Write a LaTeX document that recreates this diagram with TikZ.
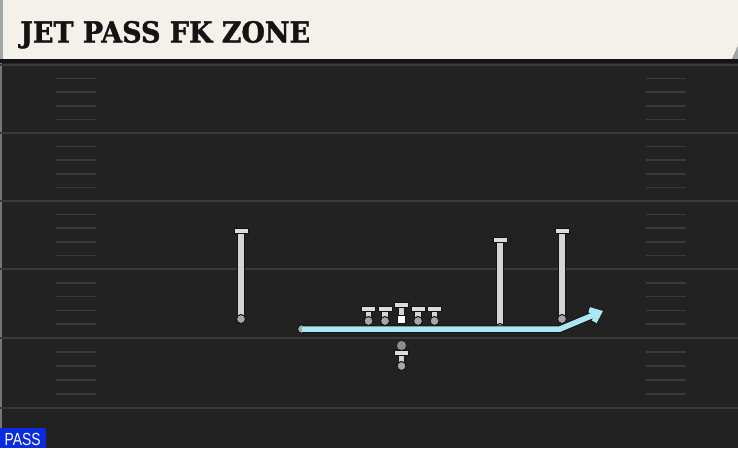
\documentclass[tikz,border=0pt]{standalone}
\usepackage{fontspec}
\usetikzlibrary{arrows.meta}
\newfontfamily\titlefont{DejaVu Serif}[BoldFeatures={FakeBold=1.5}]
\newfontfamily\tagfont{Liberation Sans}
\definecolor{fieldbg}{HTML}{222222}
\definecolor{yardline}{HTML}{3A3A3A}
\definecolor{headcream}{HTML}{F4F1EA}
\definecolor{headedge}{HTML}{A3A6A8}
\definecolor{edge}{HTML}{141414}
\definecolor{stemgray}{HTML}{D4D4D4}
\definecolor{bargray}{HTML}{DCDCDC}
\definecolor{footgray}{HTML}{A6A6A6}
\definecolor{jetblue}{HTML}{ACE6F4}
\definecolor{passblue}{HTML}{0B2BE0}

\begin{document}
\begin{tikzpicture}[x=1pt,y=-1pt,
		yard/.style={yardline,line width=2pt},
		hash/.style={yardline,line width=1.6pt},
		stem/.style={stemgray,line width=5.5pt,preaction={draw=edge,line width=7.5pt}},
		tbar/.style={draw=edge,fill=bargray,line width=1pt,minimum width=14pt,minimum height=5pt,inner sep=0pt},
		foot/.style={circle,draw=edge,fill=footgray,line width=1pt,minimum size=9pt,inner sep=0pt},
		route/.style={jetblue,line width=5.5pt,preaction={draw=edge,line width=7.5pt}}]
			\useasboundingbox (0,0) rectangle (738,448);
			\fill[fieldbg] (0,0) rectangle (738,448);
			\draw[yardline!70,line width=1.2pt] (1,60) -- (1,448);
			% yard lines and hashes
			\foreach \a/\b in {65/133,133/201,201/269,269/338,338/408} {
				\draw[yard] (0,\a) -- (738,\a);
				\foreach \k in {1,...,4} {
					\draw[hash] (56,{\a+(\b-\a)*\k/5}) -- (96,{\a+(\b-\a)*\k/5});
					\draw[hash] (646,{\a+(\b-\a)*\k/5}) -- (686,{\a+(\b-\a)*\k/5});
				}
			}
			\draw[yard] (0,408) -- (738,408);
			% header
			\fill[headcream] (0,0) -- (738,0) -- (738,46) -- (732,59) -- (0,59) -- cycle;
			\fill[headedge] (0,0) rectangle (3,59);
			\fill[headedge] (738,46) -- (738,59) -- (732,59) -- cycle;
			\fill[edge] (0,59) rectangle (738,63);
			\node[anchor=base west,inner sep=0pt,text=edge] (title) at (20,42.5)
				{\resizebox{290pt}{\height}{\fontsize{29}{29}\selectfont\titlefont\bfseries JET PASS FK ZONE}};
			% players
			\coordinate (lwr) at (241,231);
			\coordinate (lwrfoot) at (241,319);
			\coordinate (slot) at (500,240);
			\coordinate (slotfoot) at (500,328);
			\coordinate (rwr) at (562,231);
			\coordinate (rwrfoot) at (562,319);
			\coordinate (lt) at (368.5,309);
			\coordinate (ltfoot) at (368.5,321);
			\coordinate (lg) at (385,309);
			\coordinate (lgfoot) at (385,321);
			\coordinate (ctr) at (401.5,305);
			\coordinate (ctrfoot) at (401.5,319);
			\coordinate (rg) at (418,309);
			\coordinate (rgfoot) at (418,321);
			\coordinate (rt) at (434.5,309);
			\coordinate (rtfoot) at (434.5,321);
			\coordinate (qb) at (401.5,353);
			\coordinate (qbfoot) at (401.5,366);
			\foreach \p in {lwr,slot,rwr,lt,lg,ctr,rg,rt,qb} {
				\draw[stem] (\p foot) -- (\p);
				\node[tbar] at (\p) {};
			}
			\foreach \p in {lwr,slot,rwr,lt,lg,rg,rt,qb}
				\node[foot] at (\p foot) {};
			\node[draw=edge,fill=white,line width=0.8pt,minimum size=8pt,inner sep=0pt] (snap) at (ctrfoot) {};
			\node[circle,fill=footgray!85!black,minimum size=9pt,inner sep=0pt] (qbhead) at (401.5,345.5) {};
			% jet route
			\coordinate (jetstart) at (302,329);
			\coordinate (jetbreak) at (560,329);
			\coordinate (jetend) at (603,311);
			\node[foot] (motion) at (jetstart) {};
			\draw[route,-{Straight Barb[length=8pt,width=13pt]}] (jetstart) -- (jetbreak) -- (jetend);
			% play type tag
			\fill[passblue] (0,428) rectangle (46,448);
			\node[anchor=base west,inner sep=0pt,text=white] (playtype) at (4.5,445)
				{\resizebox{36pt}{\height}{\fontsize{17.5}{17.5}\selectfont\tagfont PASS}};
		\end{tikzpicture}
\end{document}
